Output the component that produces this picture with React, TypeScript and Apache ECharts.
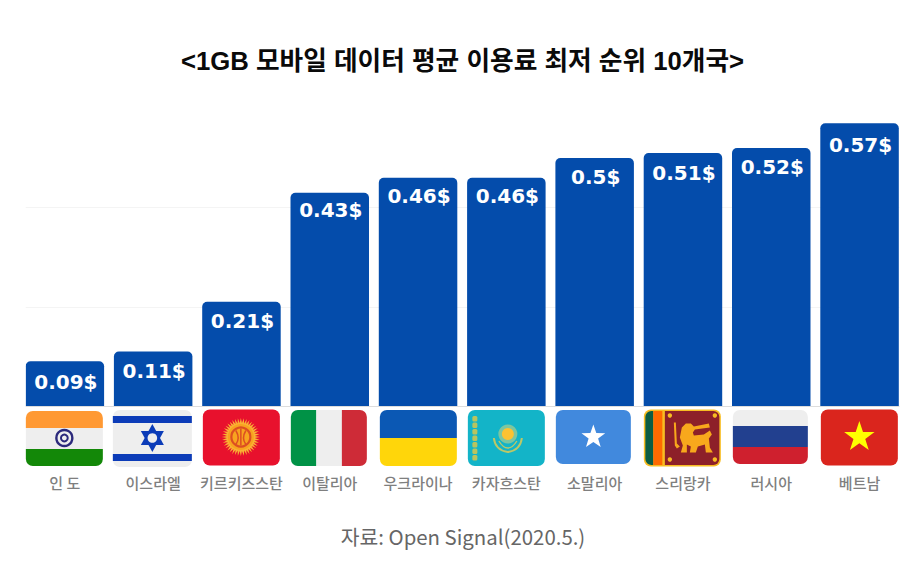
import React, { useEffect, useRef } from "react";
import * as echarts from "echarts";

const titleText = "<1GB 모바일 데이터 평균 이용료 최저 순위 10개국>";
const sourceText = "자료: Open Signal(2020.5.)";
const categories = ["인 도", "이스라엘", "키르키즈스탄", "이탈리아", "우크라이나", "카자흐스탄", "소말리아", "스리랑카", "러시아", "베트남"];
const prices = [0.09, 0.11, 0.21, 0.43, 0.46, 0.46, 0.5, 0.51, 0.52, 0.57];
const labelDistances = [11, 10, 9, 7, 8, 8, 9, 10, 9, 12];

echarts.graphic.registerShape("kgLines", echarts.graphic.extendPath("M38 19 L38 36 M33 21 C36 26 36 31 33 35 M43 21 C40 26 40 31 43 35", {}));
echarts.graphic.registerShape("kzOuter", echarts.graphic.extendPath("M26 28 C27 37 33 41 40 42 C47 41 53 37 54 28", {}));
echarts.graphic.registerShape("kzInner", echarts.graphic.extendPath("M31 31 C34 36 37 38 40 38 C43 38 46 36 49 31", {}));
echarts.graphic.registerShape(
  "lkLion",
  echarts.graphic.extendPath(
    "M30 13 L32 13 L33 34 L36 37 L33 39 L31 36 Z M38 18 L42 14 L47 14 L50 17 L65 14 L66 18 L51 20 L49 23 L50 26 L60 25 L66 21 L68 25 L65 29 L66 38 L69 43 L62 43 L61 35 L54 37 L52 43 L46 43 L47 37 L43 35 L43 43 L37 43 L39 36 L36 28 Z",
    {},
  ),
);

const FLAG_R = 7;
const rect = (x: number, y: number, w: number, h: number, fill: string, r: any = 0) => ({
  type: "rect", shape: { x, y, width: w, height: h, r }, style: { fill },
});
const circle = (cx: number, cy: number, r: number, fill: string, stroke?: string, lineWidth?: number) => ({
  type: "circle", shape: { cx, cy, r }, style: { fill, stroke, lineWidth },
});
const starPoints = (cx: number, cy: number, outer: number, inner: number, n: number) => {
  const pts: number[][] = [];
  for (let i = 0; i < n * 2; i++) {
    const r = i % 2 ? inner : outer;
    const a = -Math.PI / 2 + (i * Math.PI) / n;
    pts.push([cx + r * Math.cos(a), cy + r * Math.sin(a)]);
  }
  return pts;
};
const star = (cx: number, cy: number, outer: number, inner: number, n: number, fill: string) => ({
  type: "polygon", shape: { points: starPoints(cx, cy, outer, inner, n) }, style: { fill },
});
const hBands = (w: number, ys: number[], colors: string[]) =>
  colors.map((c, i) => {
    const first = i === 0;
    const last = i === colors.length - 1;
    return rect(0, ys[i], w, ys[i + 1] - ys[i], c, first ? [FLAG_R, FLAG_R, 0, 0] : last ? [0, 0, FLAG_R, FLAG_R] : 0);
  });

// Each flag: offset of the box from the category centre and the baseline, its size, and its drawing.
const flagDrawings: { dx: number; dy: number; w: number; h: number; draw: (w: number, h: number) => any[] }[] = [
  {
    dx: -39, dy: 5, w: 77, h: 55,
    draw: (w) => [
      ...hBands(w, [0, 17, 38, 55], ["#ff9933", "#eeeeee", "#138808"]),
      circle(38.5, 27, 8, "#eeeeee", "#2c2a7c", 2.4),
      circle(38.5, 27, 3.4, "#eeeeee", "#2c2a7c", 2),
    ],
  },
  {
    dx: -40.3, dy: 4, w: 79, h: 57,
    draw: (w, h) => [
      rect(0, 0, w, h, "#eeeeee", FLAG_R),
      rect(0, 6, w, 7, "#0c3cb8"),
      rect(0, 44, w, 7, "#0c3cb8"),
      { type: "polygon", shape: { points: [[39.5, 14], [51, 35], [28, 35]] }, style: { fill: "#0c3cb8" } },
      { type: "polygon", shape: { points: [[39.5, 42], [51, 21], [28, 21]] }, style: { fill: "#0c3cb8" } },
      circle(39.5, 28, 4.8, "#eeeeee"),
    ],
  },
  {
    dx: -38.6, dy: 3.5, w: 77, h: 56,
    draw: (w, h) => [
      rect(0, 0, w, h, "#e8112d", FLAG_R),
      star(38, 27.5, 19, 14, 40, "#f9b233"),
      circle(38, 27.5, 13, "#f8a31f"),
      circle(38, 27.5, 9.5, "#f8a31f", "#dc4f22", 2.2),
      { type: "kgLines", style: { fill: "none", stroke: "#dc4f22", lineWidth: 1.5 } },
    ],
  },
  {
    dx: -38.9, dy: 4, w: 76, h: 56,
    draw: (_w, h) => [
      rect(0, 0, 25.5, h, "#009246", [FLAG_R, 0, 0, FLAG_R]),
      rect(25.5, 0, 25.5, h, "#eeeeee"),
      rect(51, 0, 25, h, "#ce2b37", [0, FLAG_R, FLAG_R, 0]),
    ],
  },
  {
    dx: -38.2, dy: 4, w: 77, h: 56,
    draw: (w) => hBands(w, [0, 28, 56], ["#0b58b4", "#ffd60a"]),
  },
  {
    dx: -38.5, dy: 4, w: 77, h: 56,
    draw: (w, h) => [
      rect(0, 0, w, h, "#13b4c8", FLAG_R),
      ...[6, 12.5, 19, 25.5, 32, 38.5, 45].map((y) => rect(4.5, y, 5, 5.5, "#b9c45f", 1.5)),
      circle(40, 24, 9.5, "#7cc6a0"),
      circle(40, 24, 6, "#fdc231"),
      { type: "kzOuter", style: { fill: "none", stroke: "#bcc867", lineWidth: 2 } },
      { type: "kzInner", style: { fill: "none", stroke: "#bcc867", lineWidth: 1.4 } },
    ],
  },
  {
    dx: -38.8, dy: 4, w: 75, h: 54,
    draw: (w, h) => [
      rect(0, 0, w, h, "#4189dd", FLAG_R),
      star(37.5, 27, 12.5, 5, 5, "#ffffff"),
    ],
  },
  {
    dx: -39.1, dy: 3.5, w: 77, h: 57,
    draw: (w, h) => [
      rect(0, 0, w, h, "#f8bd22", FLAG_R),
      rect(1.5, 1.5, 8, h - 3, "#0b5d45", [FLAG_R - 1, 0, 0, FLAG_R - 1]),
      rect(9.5, 1.5, 9, h - 3, "#ff6a00"),
      rect(21, 1.5, w - 22.5, h - 3, "#8d2029", [0, FLAG_R - 1, FLAG_R - 1, 0]),
      ...[[26, 6], [71, 6], [26, 50], [71, 50]].map(([x, y]) => circle(x, y, 2.2, "#f8bd22")),
      { type: "lkLion", style: { fill: "#f8a81c" } },
    ],
  },
  {
    dx: -38.4, dy: 4, w: 75, h: 54,
    draw: (w) => hBands(w, [0, 16, 37, 54], ["#eeeeee", "#22408f", "#cf202e"]),
  },
  {
    dx: -38.7, dy: 3.5, w: 77, h: 56,
    draw: (w, h) => [
      rect(0, 0, w, h, "#da251d", FLAG_R),
      star(38.5, 27.5, 16, 6.2, 5, "#ffff00"),
    ],
  },
];

export default function App() {
  const ref = useRef<HTMLDivElement>(null);
  useEffect(() => {
    const chart = echarts.init(ref.current!, undefined, { renderer: "svg" });
    chart.setOption({
      animation: false,
      backgroundColor: "#ffffff",
      title: [
        {
          text: titleText,
          left: 457.5,
          top: 43,
          textAlign: "center",
          textStyle: { fontFamily: "'Liberation Sans','Noto Sans CJK KR',sans-serif", fontWeight: "bold", fontSize: 25.7, color: "#0a0a0a" },
        },
        {
          text: sourceText,
          left: 458,
          top: 521,
          textAlign: "center",
          textStyle: { fontFamily: "'Noto Sans CJK KR','Noto Sans',sans-serif", fontWeight: "normal", fontSize: 20.4, color: "#666666" },
        },
      ],
      graphic: [
        { type: "rect", z: 100, shape: { x: 17, y: 190, width: 8.7, height: 218 }, style: { fill: "#ffffff" } },
        { type: "rect", z: 100, shape: { x: 899.4, y: 190, width: 6, height: 218 }, style: { fill: "#ffffff" } },
      ],
      grid: { left: 20.7, width: 883, top: 108.4, height: 297.6 },
      xAxis: {
        type: "category",
        data: categories,
        axisTick: { show: false },
        axisLine: { show: true, lineStyle: { color: "#dddddd", width: 1 } },
        axisLabel: {
          interval: 0,
          margin: 69,
          fontFamily: "'Noto Sans CJK KR',sans-serif",
          fontWeight: 500,
          fontSize: 15,
          color: "#7f7f7f",
        },
      },
      yAxis: {
        type: "value",
        min: 0,
        max: 0.6,
        interval: 0.2,
        axisLabel: { show: false },
        axisLine: { show: false },
        axisTick: { show: false },
        splitLine: { show: true, showMaxLine: false, lineStyle: { color: "#f4f4f4", width: 1 } },
      },
      series: [
        {
          type: "bar",
          data: prices.map((value, i) => ({ value, label: { distance: labelDistances[i] } })),
          barWidth: 78.5,
          itemStyle: { color: "#044cab", borderRadius: [5, 5, 0, 0] },
          label: {
            show: true,
            position: "insideTop",
            offset: [1, 0],
            formatter: "{c}$",
            fontFamily: "'DejaVu Sans',sans-serif",
            fontWeight: "bold",
            fontSize: 20,
            color: "#ffffff",
          },
        },
        {
          type: "custom",
          data: categories.map((_, i) => i),
          silent: true,
          clip: false,
          encode: { x: 0 },
          renderItem: (params: any, api: any) => {
            const [cx, y0] = api.coord([params.dataIndex, 0]);
            const f = flagDrawings[params.dataIndex];
            return { type: "group", x: cx + f.dx, y: y0 + f.dy, children: f.draw(f.w, f.h) };
          },
        },
      ],
    });
    return () => chart.dispose();
  }, []);
  return <div ref={ref} style={{ position: "absolute", left: 0, top: 0, width: 916, height: 561 }} />;
}
